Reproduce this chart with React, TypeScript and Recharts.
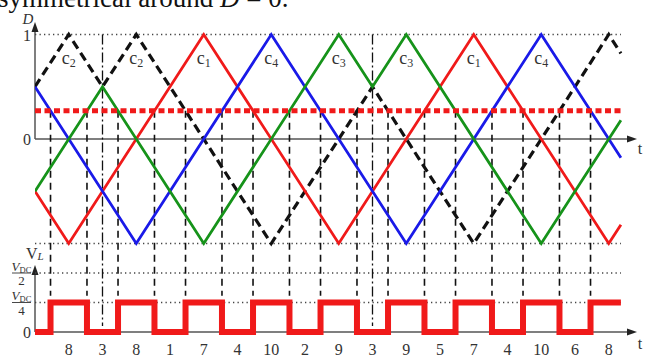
import React from "react"
import { ComposedChart, Line, XAxis, YAxis, ReferenceLine, Customized } from "recharts"

// carrier breakpoints: time (in eighths of a carrier period) and duty value D
const c1T = [0, 1, 5, 9, 13, 17, 17.36]
const c1D = [-0.5, -1, 1, -1, 1, -1, -0.82]
const c4T = [0, 3, 7, 11, 15, 17.36]
const c4D = [0.5, -1, 1, -1, 1, -0.18]
const c3T = [0, 2, 5, 9, 10, 11, 15, 17.36]
const c3D = [-0.5, 0.5, -1, 1, 0.5, 1, -1, 0.18]
const c2T = [0, 1, 2, 3, 7, 10, 13, 17, 17.36]
const c2D = [0.5, 1, 0.5, 1, -1, 0.5, -1, 1, 0.82]

// modulating reference level
const refD = 0.27

// switching instants (reference crosses a carrier)
const switchT = [0.46, 1.54, 2.46, 3.54, 4.46, 5.54, 6.46, 7.54, 8.46, 9.54, 10.46, 11.54, 12.46, 13.54, 14.46, 15.54, 16.46]

// load voltage in units of V_DC
const vlT = [0, 0.46, 1.54, 2.46, 3.54, 4.46, 5.54, 6.46, 7.54, 8.46, 9.54, 10.46, 11.54, 12.46, 13.54, 14.46, 15.54, 16.46, 17.36]
const vlV = [0, 0.25, 0, 0.25, 0, 0.25, 0, 0.25, 0, 0.25, 0, 0.25, 0, 0.25, 0, 0.25, 0, 0.25, 0.25]

// sector numbers along the time axis
const sectorT = [1, 2, 3, 4, 5, 6, 7, 8, 9, 10, 11, 12, 13, 14, 15, 16, 17]
const sectorNames = ["8", "3", "8", "1", "7", "4", "10", "2", "9", "3", "9", "5", "7", "4", "10", "6", "8"]

// carrier names written under the peaks
const peakT = [1, 3, 5, 7, 9, 11, 13, 15]
const peakNames = ["2", "2", "1", "4", "3", "3", "1", "4"]
const peakLabelD = 0.76

// symmetry instants
const symT = [2, 10]

const tEnd = 17.36
const W = 646
const H = 358
const M = { top: 14, right: 3.5, left: 35, bottom: 0 }
const XH = 18
const T_MAX = 18
// D: 0 at y=139, 104.5 px per unit; V: 0 at y=332, 118 px per V_DC
const plotTop = M.top
const plotBot = H - M.bottom - XH
const dMax = (139 - plotTop) / 104.5
const dMin = (139 - plotBot) / 104.5
const vMax = (332 - plotTop) / 118
const vMin = (332 - plotBot) / 118

const xOf = (t: number) => M.left + (t / T_MAX) * (W - M.left - M.right)
const yD = (d: number) => plotTop + ((dMax - d) / (dMax - dMin)) * (plotBot - plotTop)
const yV = (v: number) => plotTop + ((vMax - v) / (vMax - vMin)) * (plotBot - plotTop)

const pts = (ts: number[], ys: number[]) => ts.map((t, i) => ({ t, y: ys[i] }))

const RED = "#f01a1a"
const GREEN = "#16931a"
const BLUE = "#1a1ae8"
const AXIS = "#555"
const SERIF = "Liberation Serif, DejaVu Serif, serif"

function Decor() {
  const x0 = xOf(0)
  const xArrow = 637
  const arrowH = (y: number) => (
    <g>
      <line x1={x0} y1={y} x2={xArrow - 8} y2={y} stroke={AXIS} strokeWidth={1.5} />
      <polygon points={`${xArrow},${y} ${xArrow - 10},${y - 3.5} ${xArrow - 10},${y + 3.5}`} fill="#222" />
    </g>
  )
  const arrowV = (yFrom: number, yTip: number) => (
    <g>
      <line x1={x0} y1={yFrom} x2={x0} y2={yTip + 8} stroke={AXIS} strokeWidth={1.5} />
      <polygon points={`${x0},${yTip} ${x0 - 3.5},${yTip + 10} ${x0 + 3.5},${yTip + 10}`} fill="#222" />
    </g>
  )
  const frac = (v: number, den: string) => {
    const y = yV(v)
    return (
      <g fontFamily={SERIF} fill="#333">
        <text x={21.5} y={y - 2.5} textAnchor="middle" fontSize={13} fontStyle="italic">
          V<tspan fontSize={8.5} fontStyle="normal" dy={2}>DC</tspan>
        </text>
        <line x1={12} x2={31} y1={y} y2={y} stroke="#333" strokeWidth={0.9} />
        <text x={21.5} y={y + 12} textAnchor="middle" fontSize={13}>{den}</text>
      </g>
    )
  }
  return (
    <g>
      <text x={-2} y={6.5} fontFamily={SERIF} fontSize={27} fill="#111">
        symmetrical around <tspan fontStyle="italic">D</tspan> = 0.
      </text>
      {arrowH(yD(0))}
      {arrowH(yV(0))}
      {arrowV(yD(0), 22)}
      {arrowV(yV(0), 265)}
      <g fontFamily={SERIF} fill="#333" fontSize={16}>
        <text x={28} y={24} textAnchor="middle" fontStyle="italic" fontSize={15}>D</text>
        <text x={31} y={yD(1) + 6} textAnchor="end">1</text>
        <text x={31} y={yD(0) + 6} textAnchor="end">0</text>
        <text x={31} y={yV(0) + 6} textAnchor="end">0</text>
        <text x={640} y={yD(0) + 15} textAnchor="middle">t</text>
        <text x={640} y={yV(0) + 17} textAnchor="middle">t</text>
        <text x={26} y={259} fontSize={16}>
          V<tspan fontStyle="italic" fontSize={11} dy={1}>L</tspan>
        </text>
      </g>
      {frac(0.5, "2")}
      {frac(0.25, "4")}
      <g fontFamily={SERIF} fill="#333" fontSize={18}>
        {peakT.map((t, i) => (
          <text key={i} x={xOf(t)} y={yD(peakLabelD) + 4} textAnchor="middle">
            c<tspan fontSize={12} dy={3}>{peakNames[i]}</tspan>
          </text>
        ))}
      </g>
    </g>
  )
}

const dotted = { stroke: "#444", strokeWidth: 1.3, strokeDasharray: "1.3 3.2" }

export default function App() {
  return (
    <div style={{ position: "absolute", left: 0, top: 0, width: W, height: H, overflow: "hidden", background: "#fff" }}>
      <ComposedChart width={W} height={H} margin={M}>
        <XAxis
          type="number"
          dataKey="t"
          domain={[0, T_MAX]}
          allowDataOverflow
          ticks={sectorT}
          interval={0}
          tickFormatter={(v: number) => sectorNames[sectorT.indexOf(v)] ?? ""}
          axisLine={false}
          tickLine={false}
          tickSize={0}
          tickMargin={4}
          height={XH}
          tick={{ fontFamily: SERIF, fontSize: 16, fill: "#333" }}
        />
        <YAxis yAxisId="d" type="number" hide domain={[dMin, dMax]} allowDataOverflow />
        <YAxis yAxisId="v" type="number" hide domain={[vMin, vMax]} allowDataOverflow />

        <ReferenceLine yAxisId="d" segment={[{ x: 0, y: 1 }, { x: tEnd, y: 1 }]} {...dotted} />
        <ReferenceLine yAxisId="d" segment={[{ x: 0, y: -1 }, { x: tEnd, y: -1 }]} {...dotted} />
        <ReferenceLine yAxisId="v" segment={[{ x: 0, y: 0.5 }, { x: tEnd, y: 0.5 }]} {...dotted} />
        <ReferenceLine yAxisId="v" segment={[{ x: 0, y: 0.25 }, { x: tEnd, y: 0.25 }]} {...dotted} />

        {switchT.map((t) => (
          <ReferenceLine
            key={t}
            yAxisId="d"
            segment={[{ x: t, y: refD }, { x: t, y: -1.5 }]}
            stroke="#111"
            strokeWidth={1.6}
            strokeDasharray="7 5"
          />
        ))}
        {symT.map((t) => (
          <ReferenceLine
            key={t}
            yAxisId="d"
            segment={[{ x: t, y: 1 }, { x: t, y: -1.79 }]}
            stroke="#111"
            strokeWidth={1.3}
            strokeDasharray="10 3 2 3"
          />
        ))}

        <Line data={pts(c2T, c2D)} dataKey="y" yAxisId="d" stroke="#111" strokeWidth={3.2} strokeDasharray="9 5" dot={false} isAnimationActive={false} strokeLinejoin="miter" />
        <Line data={pts(c1T, c1D)} dataKey="y" yAxisId="d" stroke={RED} strokeWidth={2.8} dot={false} isAnimationActive={false} strokeLinejoin="miter" />
        <Line data={pts(c4T, c4D)} dataKey="y" yAxisId="d" stroke={BLUE} strokeWidth={2.8} dot={false} isAnimationActive={false} strokeLinejoin="miter" />
        <Line data={pts(c3T, c3D)} dataKey="y" yAxisId="d" stroke={GREEN} strokeWidth={2.8} dot={false} isAnimationActive={false} strokeLinejoin="miter" />
        <Line type="stepAfter" data={pts(vlT, vlV)} dataKey="y" yAxisId="v" stroke={RED} strokeWidth={6} dot={false} isAnimationActive={false} strokeLinejoin="miter" />

        <ReferenceLine yAxisId="d" segment={[{ x: 0, y: refD }, { x: tEnd, y: refD }]} stroke={RED} strokeWidth={5} strokeDasharray="6 3.5" />

        <Customized component={<Decor />} />
      </ComposedChart>
    </div>
  )
}
